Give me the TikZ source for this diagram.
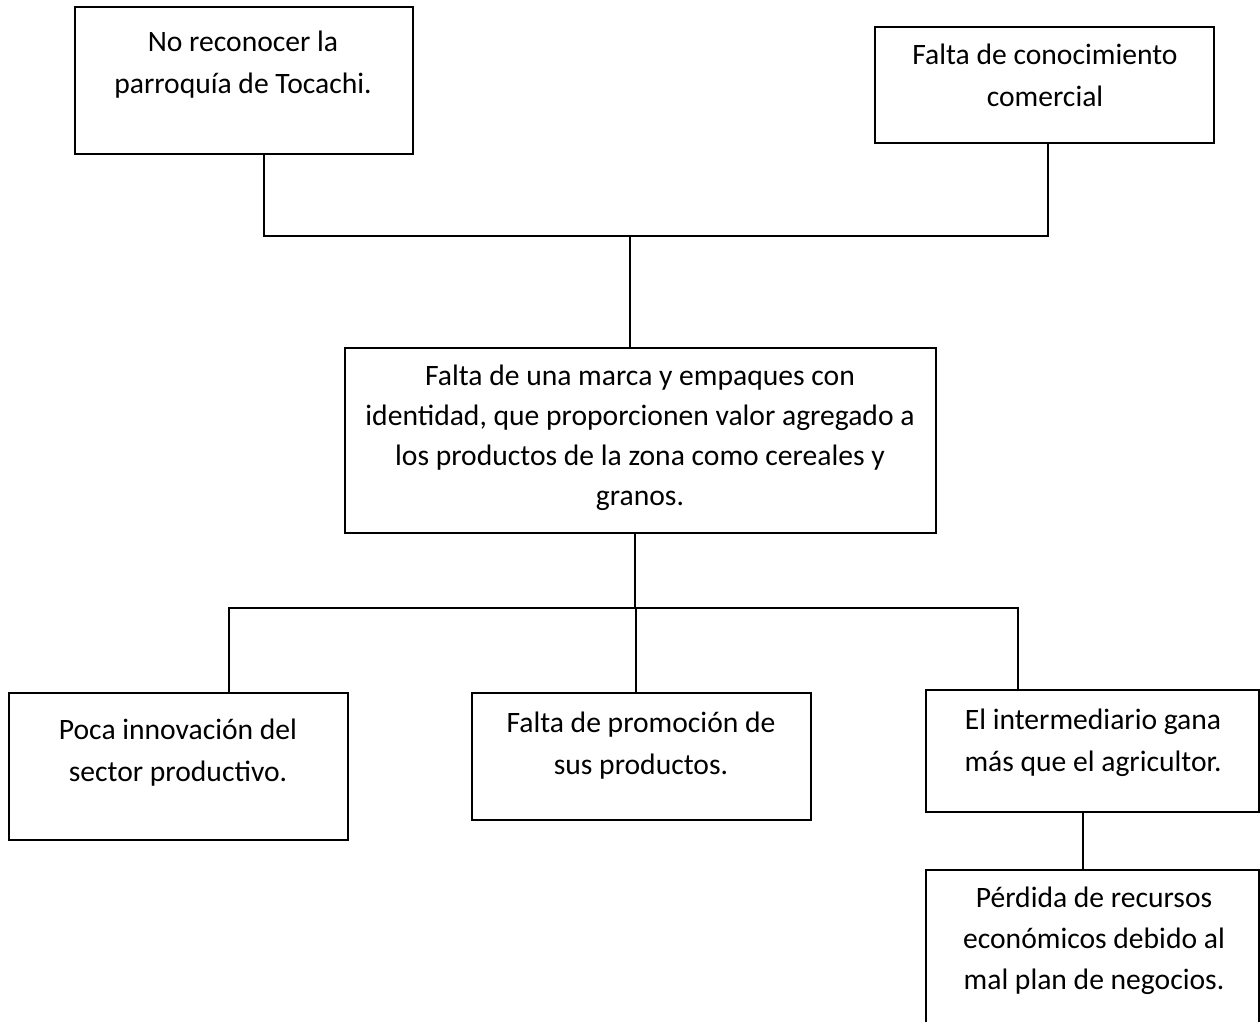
\documentclass[tikz,border=0pt]{standalone}
\usepackage{fontspec}
\setmainfont{Carlito}
\begin{document}
\begin{tikzpicture}[x=1pt,y=-1pt,
  box/.style={draw, line width=1.8pt, inner sep=0pt, rectangle},
  txt/.style={align=center, inner sep=0pt, font=\fontsize{29.6}{42}\selectfont},
  conn/.style={line width=1.2pt}]
\clip (0,0) rectangle (1260,1021);
\fill[white] (0,0) rectangle (1260,1021);
% boxes
\node[box, minimum width=338pt, minimum height=147pt] (b1) at (244,80.5) {};
\node[box, minimum width=339pt, minimum height=116pt] (b2) at (1044.5,85) {};
\node[box, minimum width=591pt, minimum height=185pt] (b3) at (640.5,440.5) {};
\node[box, minimum width=339pt, minimum height=147pt] (b4) at (178.5,766.5) {};
\node[box, minimum width=339pt, minimum height=127pt] (b5) at (641.5,756.5) {};
\node[box, minimum width=333pt, minimum height=122pt] (b6) at (1092.5,751) {};
\node[box, minimum width=333pt, minimum height=180pt] (b7) at (1092.5,960) {};
% texts
\node[txt] (t1) at (243,65) {No reconocer la\\parroquía de Tocachi.};
\node[txt] (t2) at (1045,75.5) {Falta de conocimiento\\comercial};
\node[txt, font=\fontsize{29.6}{40}\selectfont] (t3) at (640,438) {Falta de una marca y empaques con\\identidad, que proporcionen valor agregado a\\los productos de la zona como cereales y\\granos.};
\node[txt] (t4) at (178,753) {Poca innovación del\\sector productivo.};
\node[txt] (t5) at (641,746) {Falta de promoción de\\sus productos.};
\node[txt] (t6) at (1093,743) {El intermediario gana\\más que el agricultor.};
\node[txt, font=\fontsize{29.6}{41}\selectfont] (t7) at (1094,940.5) {Pérdida de recursos\\económicos debido al\\mal plan de negocios.};
% junction coordinates
\coordinate (c1) at (264,236);
\coordinate (c2) at (1048,236);
\coordinate (c3) at (630,236);
\coordinate (c4) at (635,608);
\coordinate (c5) at (229,608);
\coordinate (c6) at (1018,608);
\coordinate (c7) at (636,608);
\coordinate (c8) at (1083,840);
% connectors
\draw[conn] (c1 |- b1.south) -- (c1) -- (c2) -- (c2 |- b2.south);
\draw[conn] (c3) -- (c3 |- b3.north);
\draw[conn] (c4 |- b3.south) -- (c4);
\draw[conn] (c5 |- b4.north) -- (c5) -- (c6) -- (c6 |- b6.north);
\draw[conn] (c7) -- (c7 |- b5.north);
\draw[conn] (c8 |- b6.south) -- (c8 |- b7.north);
\end{tikzpicture}
\end{document}
